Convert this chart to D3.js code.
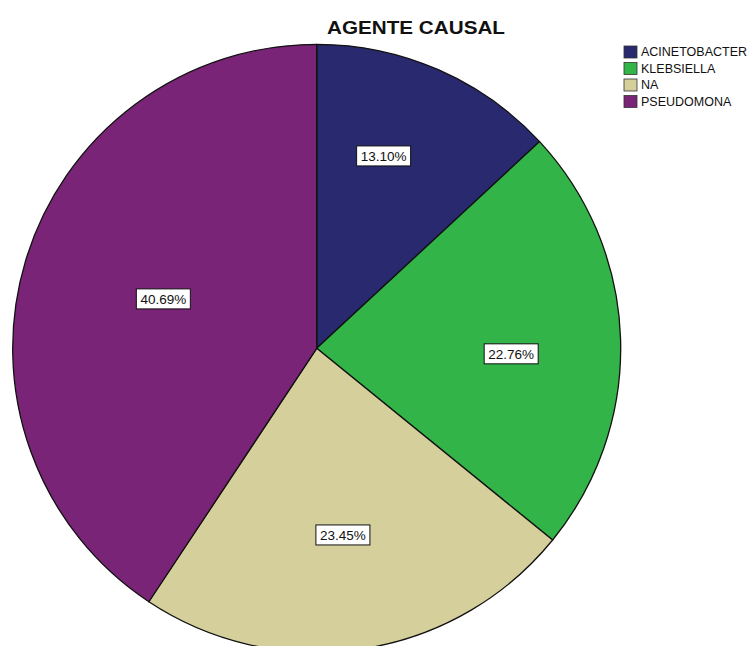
<!DOCTYPE html>
<html>
<head>
<meta charset="utf-8">
<script src="https://cdn.jsdelivr.net/npm/d3@7"></script>
<style>
  html, body { margin: 0; padding: 0; background: #fff; }
  svg { display: block; }
</style>
</head>
<body>
<svg id="chart" width="755" height="646"></svg>
<script>
// Causal agent shares (percent of cases)
const categories = ["ACINETOBACTER", "KLEBSIELLA", "NA", "PSEUDOMONA"];
const percents = [13.10, 22.76, 23.45, 40.69];
const colors = ["#28296e", "#33b449", "#d5cf9b", "#7a2477"];

// Label placement per slice: radial fraction and small angular nudge (degrees)
const labelRadiusFrac = [0.67, 0.64, 0.62, 0.53];
const labelAngleNudge = [-4.4, 3.5, 0.7, 1.1];

const svg = d3.select("#chart");
const cx = 316.7, cy = 348.3, R = 304;

const data = categories.map((c, i) => ({ name: c, value: percents[i], color: colors[i], i }));

const pie = d3.pie().sort(null).value(d => d.value).startAngle(0).endAngle(2 * Math.PI);
const arc = d3.arc().innerRadius(0).outerRadius(R);
const arcs = pie(data);

const g = svg.append("g").attr("transform", `translate(${cx},${cy})`);

g.selectAll("path.slice")
  .data(arcs)
  .join("path")
  .attr("class", "slice")
  .attr("d", arc)
  .attr("fill", d => d.data.color)
  .attr("stroke", "#111")
  .attr("stroke-width", 1.3)
  .attr("stroke-linejoin", "round");

// Percentage labels in white boxes
const labels = g.selectAll("g.lbl")
  .data(arcs)
  .join("g")
  .attr("class", "lbl")
  .attr("transform", d => {
    const a = (d.startAngle + d.endAngle) / 2 + labelAngleNudge[d.data.i] * Math.PI / 180;
    const r = R * labelRadiusFrac[d.data.i];
    return `translate(${r * Math.sin(a)},${-r * Math.cos(a)})`;
  });

labels.append("rect")
  .attr("x", -27)
  .attr("y", -10)
  .attr("width", 54)
  .attr("height", 20)
  .attr("fill", "#fff")
  .attr("stroke", "#111")
  .attr("stroke-width", 1);

labels.append("text")
  .attr("text-anchor", "middle")
  .attr("dy", "0.35em")
  .attr("font-family", "Liberation Sans, Arial, sans-serif")
  .attr("font-size", 13.5)
  .attr("fill", "#111")
  .text(d => d3.format(".2f")(d.data.value) + "%");

// Title
svg.append("text")
  .attr("x", 416)
  .attr("y", 34)
  .attr("text-anchor", "middle")
  .attr("font-family", "Liberation Sans, Arial, sans-serif")
  .attr("font-weight", "bold")
  .attr("font-size", 17.5)
  .attr("fill", "#111")
  .attr("textLength", 178)
  .attr("lengthAdjust", "spacingAndGlyphs")
  .text("AGENTE CAUSAL");

// Legend
const legend = svg.append("g").attr("transform", "translate(624,46)");
const rowH = 16.5;
const items = legend.selectAll("g.item")
  .data(data)
  .join("g")
  .attr("class", "item")
  .attr("transform", (d, i) => `translate(0,${i * rowH})`);

items.append("rect")
  .attr("width", 13)
  .attr("height", 12)
  .attr("fill", d => d.color)
  .attr("stroke", "#333")
  .attr("stroke-width", 0.8);

items.append("text")
  .attr("x", 17)
  .attr("y", 6)
  .attr("dy", "0.35em")
  .attr("font-family", "Liberation Sans, Arial, sans-serif")
  .attr("font-size", 12.5)
  .attr("fill", "#111")
  .text(d => d.name);
</script>
</body>
</html>
